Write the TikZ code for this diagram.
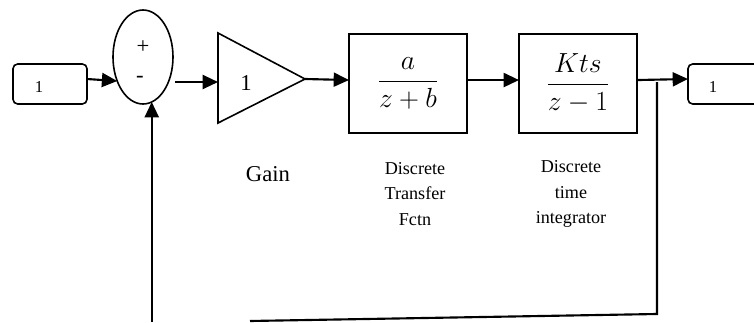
\documentclass[tikz,border=0pt]{standalone}
\usepackage{fontspec}
\setmainfont{Liberation Serif}
\usetikzlibrary{shapes.geometric,arrows.meta}

\tikzset{
  conn/.style={line width=1.6pt},
  arr/.style={conn,-{Triangle[length=11.5pt,width=10.5pt]}},
  blk/.style={draw,line width=1.2pt,outer sep=0pt,inner sep=0pt},
  iobox/.style={blk,rounded corners=3.5pt,minimum width=55.5pt,minimum height=30pt},
  tfbox/.style={blk,rectangle,minimum width=88.5pt,minimum height=74.25pt},
  iotext/.style={font=\fontsize{12.5}{13}\selectfont},
  sign/.style={font=\fontsize{17}{18}\selectfont},
  caption/.style={align=center,font=\fontsize{13.6}{19}\selectfont},
  fracfont/.style={font=\fontsize{21}{23}\selectfont}
}

\begin{document}
\begin{tikzpicture}[x=0.75pt,y=-0.75pt]
  \useasboundingbox (0,0) rectangle (754,322);
  \clip (0,0) rectangle (754,322);

  % input port
  \node[iobox] (in) at (50,84) {};
  \node[iotext] (inlbl) at (39,87) {1};

  % summing junction
  \node[blk,ellipse,minimum width=45pt,minimum height=70.5pt] (sum) at (143,57) {};
  \node[sign] (plus) at (143,47) {+};
  \node[sign] (minus) at (140,79) {-};

  % gain block
  \coordinate (gtop) at (218,33);
  \coordinate (gbot) at (218,123);
  \coordinate (gapex) at (305,79);
  \draw[line width=1.2pt,line join=miter] (gtop) -- (gapex) -- (gbot) -- cycle;
  \node[font=\fontsize{17}{18}\selectfont] (gain) at (246,83) {1};
  \coordinate (gin) at (218,82);
  \coordinate (sumout) at (175,82);

  % discrete transfer function and integrator
  \node[tfbox,fracfont] (tf) at (408,83.5) {$\displaystyle\frac{a}{z+b}$};
  \node[tfbox,fracfont] (integ) at (578,83.5) {$\displaystyle\frac{Kts}{z-1}$};

  % output port
  \node[iobox] (out) at (725,84) {};
  \node[iotext] (outlbl) at (713,87) {1};

  % captions
  \node[font=\fontsize{17}{20}\selectfont] (gaincap) at (268,174) {Gain};
  \node[caption] (tfcap) at (415,194) {Discrete\\Transfer\\Fctn};
  \node[caption] (integcap) at (571,194) {Discrete\\time\\integrator};

  % forward path
  \draw[arr] ([yshift=3.75pt]in.east) -- (sum.223);
  \draw[arr] (sumout) -- (gin);
  \draw[arr] (gapex) -- ([yshift=2.6pt]tf.west);
  \draw[arr] ([yshift=2.6pt]tf.east) -- ([yshift=2.6pt]integ.west);
  \draw[arr] ([yshift=2.6pt]integ.east) -- ([yshift=3.75pt]out.west);

  % feedback path
  \coordinate (tap) at (657,82);
  \coordinate (corner) at (657,314);
  \coordinate (fbend) at (250,321);
  \draw[conn,line join=miter] (tap) -- (corner) -- (fbend);
  \coordinate (fbstart) at (0,322);
  \draw[arr] (sum.281 |- fbstart) -- (sum.281);
\end{tikzpicture}
\end{document}
